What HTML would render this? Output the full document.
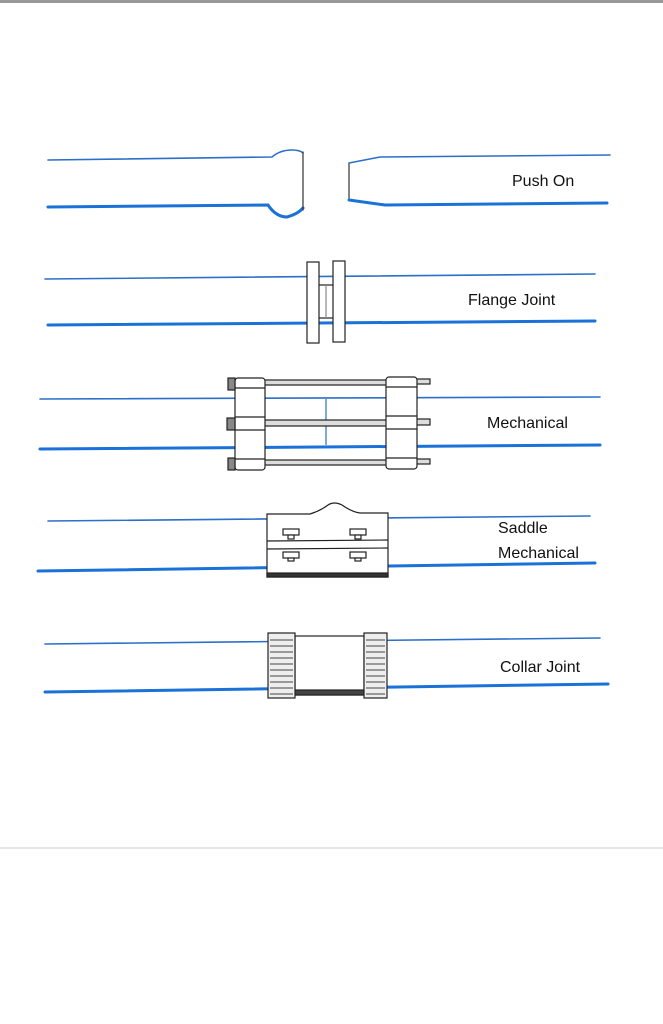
<!DOCTYPE html>
<html><head><style>
html,body{margin:0;padding:0;background:#fff;}
svg{display:block}
text{font-family:"Liberation Sans",sans-serif;font-size:16px;fill:#111}
</style></head><body>
<svg width="663" height="1024" viewBox="0 0 663 1024">
<rect x="0" y="0" width="663" height="3" fill="#999"/>
<line x1="0" y1="848" x2="663" y2="848" stroke="#ccc" stroke-width="1"/>
<g fill="none" stroke-linecap="round">
<!-- Push on -->
<path d="M48 160 L272 157 Q280 150 292 150 Q300 150 303 153" stroke="#2a6fc9" stroke-width="1.6"/>
<path d="M48 207 L268 205 Q276 217 287 217 Q298 214 303 208" stroke="#1a72d8" stroke-width="3"/>
<line x1="303" y1="152" x2="303" y2="210" stroke="#333" stroke-width="1.2"/>
<path d="M349 163 L349 200" stroke="#333" stroke-width="1.2"/>
<path d="M349 163 L380 157 L610 155" stroke="#2a6fc9" stroke-width="1.6"/>
<path d="M349 200 L385 205 L607 203" stroke="#1a72d8" stroke-width="3"/>
<!-- Flange -->
<line x1="45" y1="279" x2="595" y2="274" stroke="#2a6fc9" stroke-width="1.6"/>
<line x1="48" y1="325" x2="595" y2="321" stroke="#1a72d8" stroke-width="3"/>
<!-- Mechanical -->
<line x1="40" y1="399" x2="600" y2="397" stroke="#2a6fc9" stroke-width="1.6"/>
<line x1="40" y1="449" x2="600" y2="445" stroke="#1a72d8" stroke-width="3"/>
<!-- Saddle -->
<line x1="48" y1="521" x2="590" y2="516" stroke="#2a6fc9" stroke-width="1.6"/>
<line x1="38" y1="571" x2="595" y2="563" stroke="#1a72d8" stroke-width="3"/>
<!-- Collar -->
<line x1="45" y1="644" x2="600" y2="638" stroke="#2a6fc9" stroke-width="1.6"/>
<line x1="45" y1="692" x2="608" y2="684" stroke="#1a72d8" stroke-width="3"/>
</g>
<g stroke="#222" stroke-width="1.2" fill="#fff">
<!-- flanges -->
<rect x="307" y="262" width="12" height="81"/>
<rect x="333" y="261" width="12" height="81"/>
<line x1="319" y1="285" x2="333" y2="285"/><line x1="319" y1="318" x2="333" y2="318"/>
<line x1="326" y1="285" x2="326" y2="318" stroke="#888"/>
<!-- mechanical -->
<line x1="326" y1="399" x2="326" y2="445" stroke="#2a6fc9"/>
<rect x="264" y="380" width="123" height="5" fill="#ddd"/>
<rect x="264" y="420" width="123" height="6" fill="#ddd"/>
<rect x="264" y="460" width="123" height="5" fill="#ddd"/>
<rect x="416" y="379" width="14" height="5" fill="#ddd"/>
<rect x="416" y="419" width="14" height="6" fill="#ddd"/>
<rect x="416" y="459" width="14" height="5" fill="#ddd"/>
<rect x="235" y="378" width="30" height="92" rx="3"/>
<line x1="235" y1="388" x2="265" y2="388"/><line x1="235" y1="417" x2="265" y2="417"/><line x1="235" y1="430" x2="265" y2="430"/><line x1="235" y1="459" x2="265" y2="459"/>
<rect x="386" y="377" width="31" height="92" rx="3"/>
<line x1="386" y1="387" x2="417" y2="387"/><line x1="386" y1="416" x2="417" y2="416"/><line x1="386" y1="429" x2="417" y2="429"/><line x1="386" y1="458" x2="417" y2="458"/>
<rect x="228" y="378" width="7" height="12" fill="#888"/>
<rect x="227" y="418" width="8" height="12" fill="#888"/>
<rect x="228" y="458" width="7" height="12" fill="#888"/>
<!-- saddle -->
<path d="M267 514 L310 514 Q320 511 328 505 Q334 501 342 505 Q352 512 360 513 L388 513 L388 577 L267 577 Z"/>
<line x1="267" y1="541" x2="388" y2="540"/><line x1="267" y1="549" x2="388" y2="548"/>
<rect x="267" y="573" width="121" height="4" fill="#333"/>
<rect x="283" y="529" width="16" height="6"/><rect x="288" y="535" width="6" height="4"/>
<rect x="350" y="529" width="16" height="6"/><rect x="355" y="535" width="6" height="4"/>
<rect x="283" y="552" width="16" height="6"/><rect x="288" y="558" width="6" height="3"/>
<rect x="350" y="552" width="16" height="6"/><rect x="355" y="558" width="6" height="3"/>
<!-- collar -->
<rect x="295" y="636" width="69" height="59"/>
<rect x="295" y="690" width="69" height="5" fill="#444"/>
<rect x="268" y="633" width="27" height="65" fill="#eee"/>
<rect x="364" y="633" width="23" height="65" fill="#eee"/>
</g>
<g stroke="#444" stroke-width="1">
<path d="M270 640H293M270 646H293M270 652H293M270 658H293M270 664H293M270 670H293M270 676H293M270 682H293M270 688H293M270 694H293"/>
<path d="M366 640H385M366 646H385M366 652H385M366 658H385M366 664H385M366 670H385M366 676H385M366 682H385M366 688H385M366 694H385"/>
</g>
<text x="512" y="186">Push On</text>
<text x="468" y="305">Flange Joint</text>
<text x="487" y="428">Mechanical</text>
<text x="498" y="533">Saddle</text>
<text x="498" y="558">Mechanical</text>
<text x="500" y="672">Collar Joint</text>
</svg>
</body></html>
